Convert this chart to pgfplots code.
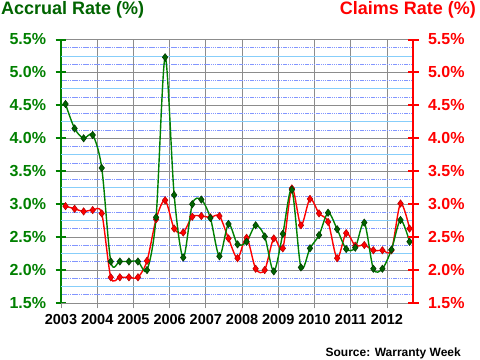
\documentclass[border=0pt]{standalone}
\usepackage{pgfplots}
\pgfplotsset{compat=1.18}
\usepackage{pgfplotstable}
\usepackage{fontspec}
\setmainfont{Liberation Sans}
\definecolor{accgreen}{RGB}{0,128,0}
\definecolor{acctitle}{RGB}{0,100,0}
\definecolor{mkgreen}{RGB}{0,100,0}
\definecolor{clred}{RGB}{255,0,0}
\definecolor{gridgray}{RGB}{140,140,140}
\definecolor{skyb}{RGB}{135,206,250}
\definecolor{peri}{RGB}{130,150,255}
\pgfplotstableread{
x g r
2003.125 4.52 2.97
2003.375 4.15 2.93
2003.625 4.00 2.89
2003.875 4.05 2.91
2004.125 3.55 2.86
2004.375 2.13 1.89
2004.625 2.13 1.89
2004.875 2.13 1.89
2005.125 2.13 1.89
2005.375 2.00 2.14
2005.625 2.80 2.77
2005.875 5.23 3.06
2006.125 3.14 2.63
2006.375 2.19 2.57
2006.625 3.00 2.81
2006.875 3.07 2.82
2007.125 2.79 2.80
2007.375 2.21 2.82
2007.625 2.70 2.48
2007.875 2.39 2.18
2008.125 2.43 2.49
2008.375 2.68 2.02
2008.625 2.51 2.00
2008.875 1.98 2.48
2009.125 2.55 2.33
2009.375 3.22 3.24
2009.625 2.04 2.68
2009.875 2.33 3.08
2010.125 2.53 2.86
2010.375 2.87 2.73
2010.625 2.62 2.18
2010.875 2.32 2.56
2011.125 2.34 2.37
2011.375 2.72 2.38
2011.625 2.02 2.30
2011.875 2.02 2.30
2012.125 2.31 2.30
2012.375 2.76 3.01
2012.625 2.43 2.63
}\data
\begin{document}
\begin{tikzpicture}
\useasboundingbox (0,0) rectangle (480bp,360bp);
\begin{axis}[
  at={(61bp,57bp)}, anchor=south west,
  scale only axis, width=352bp, height=263.5bp,
  xmin=2003, xmax=2012.72, ymin=1.5, ymax=5.5,
  axis x line*=bottom, axis y line*=left,
  x axis line style={gridgray, line width=0.8bp, -},
  y axis line style={accgreen, line width=2bp, -},
  xtick={2003,2004,2005,2006,2007,2008,2009,2010,2011,2012},
  xticklabels={2003,2004,2005,2006,2007,2008,2009,2010,2011,2012},
  xticklabel style={font=\fontsize{14.5bp}{16bp}\selectfont\bfseries, text=black, yshift=-2.5bp},
  x tick style={gridgray, line width=0.8bp},
  ytick={1.5,2,2.5,3,3.5,4,4.5,5,5.5},
  yticklabels={1.5\%,2.0\%,2.5\%,3.0\%,3.5\%,4.0\%,4.5\%,5.0\%,5.5\%},
  minor ytick={1.625,1.875,2.125,2.375,2.625,2.875,3.125,3.375,3.625,3.875,4.125,4.375,4.625,4.875,5.125,5.375},
  extra y ticks={1.75,2.25,2.75,3.25,3.75,4.25,4.75,5.25},
  extra y tick labels={},
  extra y tick style={grid=major, major grid style={skyb, line width=0.9bp}, tick style={draw=none}},
  yticklabel style={font=\fontsize{16bp}{18bp}\selectfont\bfseries, text=accgreen, xshift=-6bp},
  y tick style={accgreen, line width=2bp},
  major tick length=11bp, minor tick length=0pt,
  tick align=center,
  grid=both,
  major grid style={gridgray, line width=0.8bp},
  minor grid style={peri, line width=0.8bp, dash pattern=on 1.5bp off 0.7bp},
  clip=false,
]
\addplot[clred, line width=1.4bp, smooth, tension=0.5, mark=diamond*, mark size=3.7bp,
  mark options={solid, fill=clred, draw=red!70!black, line width=0.5bp}] table[x=x,y=r]{\data};
\addplot[accgreen, line width=1.4bp, smooth, tension=0.5, mark=diamond*, mark size=3.7bp,
  mark options={solid, fill=mkgreen, draw=black!80!green, line width=0.5bp}] table[x=x,y=g]{\data};
\end{axis}
\begin{axis}[
  at={(61bp,57bp)}, anchor=south west,
  scale only axis, width=352bp, height=263.5bp,
  xmin=2003, xmax=2012.72, ymin=1.5, ymax=5.5,
  axis x line=none, axis y line*=right,
  y axis line style={clred, line width=2bp, -},
  ytick={1.5,2,2.5,3,3.5,4,4.5,5,5.5},
  yticklabels={1.5\%,2.0\%,2.5\%,3.0\%,3.5\%,4.0\%,4.5\%,5.0\%,5.5\%},
  yticklabel style={font=\fontsize{16bp}{18bp}\selectfont\bfseries, text=clred, xshift=6bp},
  y tick style={clred, line width=2bp},
  major tick length=11bp,
  tick align=center,
]
\end{axis}
\node[anchor=west, inner sep=0pt, text=acctitle, font=\fontsize{18bp}{20bp}\selectfont\bfseries] at (1bp,350bp) {Accrual Rate (\%)};
\node[anchor=east, inner sep=0pt, text=clred, font=\fontsize{18bp}{20bp}\selectfont\bfseries] at (476bp,350bp) {Claims Rate (\%)};
\node[anchor=east, inner sep=0pt, text=black, font=\fontsize{12bp}{14bp}\selectfont\bfseries] at (461bp,7bp) {Source: Warranty Week};
\end{tikzpicture}
\end{document}
